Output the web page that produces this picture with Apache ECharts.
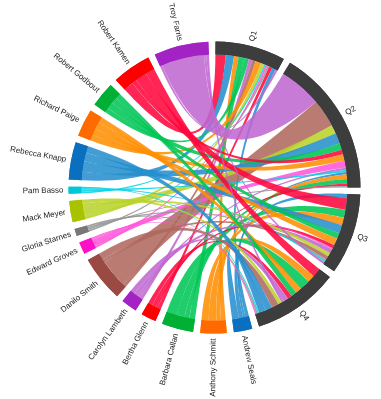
<!DOCTYPE html>
<html><head><meta charset="utf-8">
<script src="https://cdn.jsdelivr.net/npm/echarts@6/dist/echarts.min.js"></script>
<style>html,body{margin:0;padding:0;background:#fff}#c{width:381px;height:399px}</style>
</head><body><div id="c"></div>
<script>
const quarters = ['Q1', 'Q2', 'Q3', 'Q4'];
const people = ['Andrew Seals', 'Anthony Schmitt', 'Barbara Callan', 'Bertha Glenn', 'Carolyn Lambeth',
  'Danilo Smith', 'Edward Groves', 'Gloria Starnes', 'Mack Meyer', 'Pam Basso', 'Rebecca Knapp',
  'Richard Paige', 'Robert Godbout', 'Robert Kamen', 'Troy Farris'];
// sales per person (same order as people) for each quarter
const salesQ1 = [15, 20, 25, 15, 15, 15, 8, 8, 15, 6, 36, 25, 20, 44, 10];
const salesQ2 = [10, 20, 20, 10, 10, 122, 29, 6, 37, 10, 46, 28, 30, 20, 185];
const salesQ3 = [18, 33, 35, 15, 18, 15, 6, 7, 16, 6, 36, 30, 25, 50, 10];
const salesQ4 = [30, 31, 45, 20, 20, 30, 5, 7, 16, 6, 30, 26, 24, 40, 11];
// order in which ribbons attach to each quarter arc
const orderQ1 = ['Robert Kamen', 'Rebecca Knapp', 'Anthony Schmitt', 'Barbara Callan', 'Robert Godbout', 'Carolyn Lambeth', 'Danilo Smith', 'Richard Paige', 'Mack Meyer', 'Pam Basso', 'Edward Groves', 'Gloria Starnes', 'Bertha Glenn', 'Andrew Seals', 'Troy Farris'];
const orderQ2 = ['Troy Farris', 'Danilo Smith', 'Mack Meyer', 'Rebecca Knapp', 'Robert Godbout', 'Robert Kamen', 'Richard Paige', 'Edward Groves', 'Carolyn Lambeth', 'Pam Basso', 'Andrew Seals', 'Anthony Schmitt', 'Barbara Callan', 'Bertha Glenn', 'Gloria Starnes'];
const orderQ3 = ['Andrew Seals', 'Robert Kamen', 'Barbara Callan', 'Anthony Schmitt', 'Rebecca Knapp', 'Robert Godbout', 'Richard Paige', 'Bertha Glenn', 'Edward Groves', 'Carolyn Lambeth', 'Mack Meyer', 'Danilo Smith', 'Gloria Starnes', 'Pam Basso', 'Troy Farris'];
const orderQ4 = ['Robert Kamen', 'Anthony Schmitt', 'Barbara Callan', 'Richard Paige', 'Robert Godbout', 'Bertha Glenn', 'Carolyn Lambeth', 'Troy Farris', 'Mack Meyer', 'Danilo Smith', 'Rebecca Knapp', 'Andrew Seals', 'Pam Basso', 'Gloria Starnes', 'Edward Groves'];

const arcPalette = ['#0b6fbf', '#ff6a00', '#00b034', '#ff0000', '#a322c4', '#9a4a42', '#ff10c8', '#777777', '#a9c200', '#00c6d6'];
const ribbonPalette = ['#278fce', '#ff8f03', '#00c655', '#ff073d', '#c068d1', '#b16960', '#ff55d9', '#969696', '#b9d42b', '#07d4e5'];
const quarterColor = '#3d3d3d';

const PAD = 2.8, START = 89.6, CENTER = [214.5, 187.6], RADIUS = [133, 146];

const salesByQuarter = [salesQ1, salesQ2, salesQ3, salesQ4];
const orders = [orderQ1, orderQ2, orderQ3, orderQ4];

// chord nodes carry the ribbon colours; the visible outer arcs are drawn by the ring series
const nodes = quarters.map(q => ({ name: q, itemStyle: { color: quarterColor } }))
  .concat(people.map((p, i) => ({ name: p, itemStyle: { color: ribbonPalette[i % 10] } })));
const arcColors = quarters.map(() => quarterColor).concat(people.map((p, i) => arcPalette[i % 10]));

const links = [];
quarters.forEach((q, qi) => {
  orders[qi].forEach(p => {
    const pi = people.indexOf(p);
    const v = salesByQuarter[qi][pi];
    if (v > 0) links.push({ source: p, target: q, value: v });
  });
});

// node totals for the outer ring
const totals = quarters.map((q, qi) => salesByQuarter[qi].reduce((a, b) => a + b, 0))
  .concat(people.map((p, pi) => salesByQuarter.reduce((a, s) => a + s[pi], 0)));
const grand = totals.reduce((a, b) => a + b, 0);
const N = totals.length;
const gapVal = PAD * grand / (360 - N * PAD);
const ringData = [];
nodes.forEach((n, i) => {
  ringData.push({ name: n.name, value: totals[i], itemStyle: { color: arcColors[i] } });
  ringData.push({ name: '', value: gapVal, itemStyle: { color: 'rgba(0,0,0,0)' }, label: { show: false } });
});

const chart = echarts.init(document.getElementById('c'), null, { renderer: 'canvas' });
chart.setOption({
  animation: false,
  series: [
    {
      type: 'chord',
      center: CENTER,
      radius: RADIUS,
      startAngle: START,
      padAngle: PAD,
      clockwise: true,
      itemStyle: { borderRadius: 0, borderWidth: 0 },
      lineStyle: { opacity: 0.88, color: 'source' },
      label: { show: false },
      data: nodes,
      links: links
    },
    {
      type: 'pie',
      center: CENTER,
      radius: RADIUS,
      startAngle: START,
      clockwise: true,
      silent: true,
      avoidLabelOverlap: false,
      itemStyle: { borderWidth: 0 },
      labelLine: { show: false, length: 5, length2: 0 },
      label: {
        show: true, position: 'outside', rotate: 'radial', distanceToLabelLine: 0,
        fontFamily: 'Liberation Sans', fontSize: 8, color: '#222'
      },
      data: ringData
    }
  ]
});
</script></body></html>
